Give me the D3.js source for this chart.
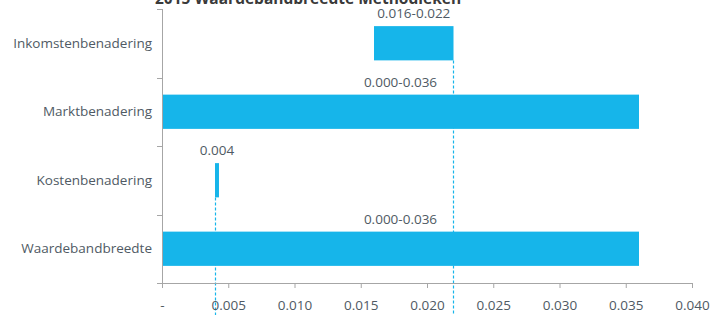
<!DOCTYPE html>
<html>
<head>
<meta charset="utf-8">
<script src="https://cdn.jsdelivr.net/npm/d3@7"></script>
<style>
  body { margin: 0; background: #fff; }
  svg text { font-family: "Open Sans", sans-serif; fill: #4f5a64; }
</style>
</head>
<body>
<svg width="713" height="315"></svg>
<script>
var categories = ["Inkomstenbenadering", "Marktbenadering", "Kostenbenadering", "Waardebandbreedte"];
var rangeStart = [0.016, 0.000, 0.004, 0.000];
var rangeEnd   = [0.022, 0.036, 0.0043, 0.036];
var barLabels  = ["0.016-0.022", "0.000-0.036", "0.004", "0.000-0.036"];
var xTicks = [0, 0.005, 0.010, 0.015, 0.020, 0.025, 0.030, 0.035, 0.040];
// dashed guide lines: value and the category they drop from
var guideValues = [0.004, 0.022];
var guideFrom   = ["Kostenbenadering", "Inkomstenbenadering"];

var barColor = "#16b5ea";
var axisColor = "#a6a6a6";

var svg = d3.select("svg"),
    margin = {top: 9, right: 21, bottom: 32, left: 162},
    width = +svg.attr("width") - margin.left - margin.right,
    height = +svg.attr("height") - margin.top - margin.bottom,
    g = svg.append("g").attr("transform", "translate(" + margin.left + "," + margin.top + ")");

var x = d3.scaleLinear().domain([0, 0.040]).range([0, width]);
var y = d3.scaleBand().domain(categories).range([0, height]).paddingInner(0.5).paddingOuter(0.25);

var data = categories.map(function(c, i) {
    return {cat: c, start: rangeStart[i], end: rangeEnd[i], label: barLabels[i]};
});

// title (cut off at the top like in the original)
svg.append("text")
    .attr("x", 308)
    .attr("y", 4)
    .attr("text-anchor", "middle")
    .style("font-weight", "bold")
    .style("font-size", "15.5px")
    .style("fill", "#3a3a3a")
    .text("2015 Waardebandbreedte Methodieken");

// guide lines behind the bars
g.selectAll(".guide")
    .data(guideValues)
  .enter().append("line")
    .attr("class", "guide")
    .attr("x1", function(d) { return Math.round(x(d)) + 0.5; })
    .attr("x2", function(d) { return Math.round(x(d)) + 0.5; })
    .attr("y1", function(d, i) { return y(guideFrom[i]) + y.bandwidth(); })
    .attr("y2", height + margin.bottom)
    .style("stroke", barColor)
    .style("stroke-width", 1.2)
    .style("stroke-dasharray", "3,2");

// bars
g.selectAll(".bar")
    .data(data)
  .enter().append("rect")
    .attr("class", "bar")
    .attr("x", function(d) { return x(d.start); })
    .attr("width", function(d) { return x(d.end) - x(d.start); })
    .attr("y", function(d) { return y(d.cat); })
    .attr("height", y.bandwidth())
    .attr("fill", barColor);

// bar labels
g.selectAll(".blabel")
    .data(data)
  .enter().append("text")
    .attr("class", "blabel")
    .attr("x", function(d) { return (x(d.start) + x(d.end)) / 2; })
    .attr("y", function(d) { return y(d.cat) - 8; })
    .attr("text-anchor", "middle")
    .style("font-size", "13.5px")
    .text(function(d) { return d.label; });

// x axis
var xAxis = g.append("g")
    .attr("transform", "translate(0," + height + ")")
    .call(d3.axisBottom(x)
        .tickValues(xTicks)
        .tickSize(5)
        .tickSizeOuter(0)
        .tickPadding(12)
        .tickFormat(function(d) { return d === 0 ? "-" : d3.format(".3f")(d); }));
xAxis.select(".domain").attr("stroke", axisColor);
xAxis.selectAll(".tick line").attr("stroke", axisColor);
xAxis.selectAll("text").style("font-size", "13.5px").style("fill", "#4f5a64");

// y axis: ticks between categories, labels at band centers
var yAxisG = g.append("g");
yAxisG.append("line")
    .attr("x1", 0.5).attr("x2", 0.5)
    .attr("y1", 0).attr("y2", height)
    .attr("stroke", axisColor);
var step = y.step();
yAxisG.selectAll(".ytick")
    .data(d3.range(categories.length + 1))
  .enter().append("line")
    .attr("class", "ytick")
    .attr("x1", -5).attr("x2", 0)
    .attr("y1", function(i) { return Math.round(i * step) + 0.5; })
    .attr("y2", function(i) { return Math.round(i * step) + 0.5; })
    .attr("stroke", axisColor);
yAxisG.selectAll(".ylabel")
    .data(categories)
  .enter().append("text")
    .attr("class", "ylabel")
    .attr("x", -10)
    .attr("y", function(d) { return y(d) + y.bandwidth() / 2; })
    .attr("dy", "0.35em")
    .attr("text-anchor", "end")
    .style("font-size", "13.5px")
    .text(function(d) { return d; });
</script>
</body>
</html>
